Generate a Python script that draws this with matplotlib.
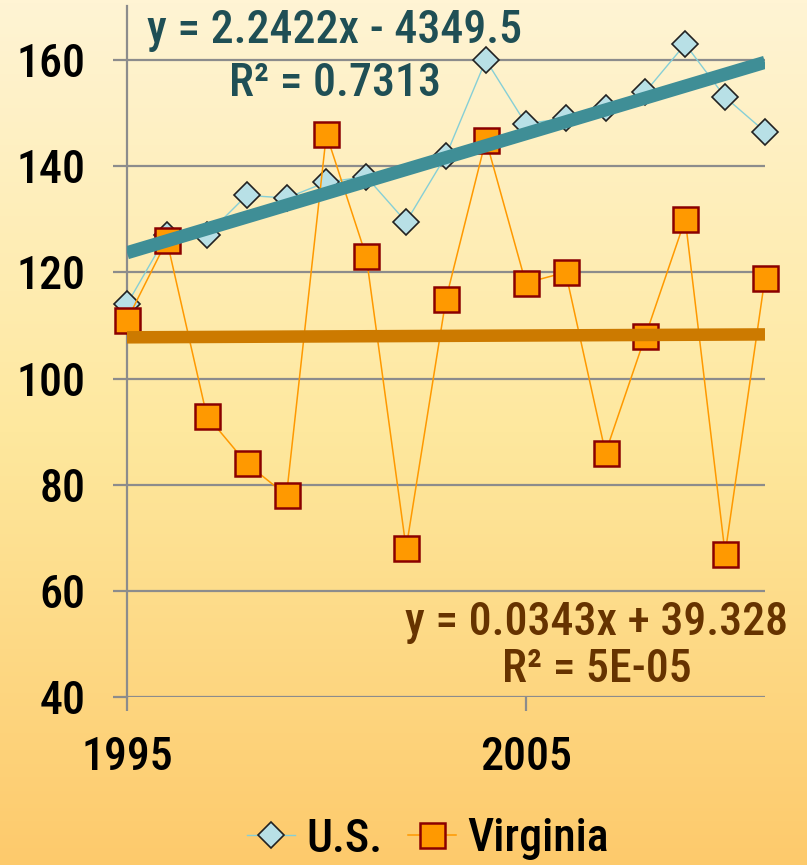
import numpy as np
import matplotlib
matplotlib.use('Agg')
import matplotlib.pyplot as plt
from matplotlib.colors import LinearSegmentedColormap

""" U.S. vs Virginia, 1995-2011, with linear trend lines """

years = [1995, 1996, 1997, 1998, 1999, 2000, 2001, 2002, 2003,
         2004, 2005, 2006, 2007, 2008, 2009, 2010, 2011]
us = [114, 127, 127, 134.5, 134, 137, 138, 129.5, 142,
      160, 148, 149, 151, 154, 163, 153, 146.5]
virginia = [111, 126, 93, 84, 78, 146, 123, 68, 115,
            145, 118, 120, 86, 108, 130, 67, 119]
y_ticks = [40, 60, 80, 100, 120, 140, 160]
x_ticks = [1995, 2005]
us_fit = (2.2422, -4349.5)
va_fit = (0.0343, 39.328)
us_eq = ['y = 2.2422x - 4349.5', 'R² = 0.7313']
va_eq = ['y = 0.0343x + 39.328', 'R² = 5E-05']

FONT = ['Roboto Condensed', 'Liberation Sans Narrow', 'DejaVu Sans']
plt.rcParams['font.family'] = FONT
plt.rcParams['font.weight'] = 'medium'

W, H = 807, 865
fig = plt.figure(figsize=(W / 100, H / 100), dpi=100)

# gradient background
bg = fig.add_axes([0, 0, 1, 1])
grad = np.linspace(0, 1, 256).reshape(-1, 1)
cmap = LinearSegmentedColormap.from_list('bg', ['#FFF4D4', '#FEE89E', '#FDCA6C'])
bg.imshow(grad, aspect='auto', cmap=cmap, extent=[0, 1, 0, 1], origin='upper')
bg.axis('off')

ax = fig.add_axes([127 / W, (H - 697) / H, 638 / W, 691 / H])
ax.patch.set_alpha(0)
ax.set_xlim(1995, 2011)
ax.set_ylim(40, 40 + 691 / (637 / 120))

for s in ['top', 'right', 'bottom']:
    ax.spines[s].set_visible(False)
ax.spines['left'].set_color('#8C8C8C')
ax.spines['left'].set_linewidth(1.6)

ax.set_yticks(y_ticks)
ax.set_xticks(x_ticks)
ax.tick_params(axis='both', colors='#8C8C8C', width=1.6, length=10,
               labelcolor='black', labelsize=33)
ax.tick_params(axis='y', pad=20)
ax.tick_params(axis='x', pad=18)
ax.yaxis.grid(True, color='#8C8C8C', linewidth=1.6)
ax.set_axisbelow(True)

ax.plot(years, us, color='#86CFD6', lw=1.0, marker='D', ms=13.5,
        mfc='#B8E0E6', mec='#222222', mew=1.2, clip_on=False, zorder=3, label='U.S.')
ax.plot(years, virginia, color='#FF9900', lw=1.1, marker='s', ms=18,
        mfc='#FF9900', mec='#8B0000', mew=1.8, clip_on=False, zorder=3, label='Virginia')

xs = np.array([years[0], years[-1]])
ax.plot(xs, us_fit[0] * xs + us_fit[1], color='#3F8E96', lw=9.5,
        solid_capstyle='butt', zorder=4)
ax.plot(xs, va_fit[0] * xs + va_fit[1], color='#CC7A00', lw=9,
        solid_capstyle='butt', zorder=4)

ax.text(335 / W, 1 - 30 / H, us_eq[0], transform=fig.transFigure, ha='center',
        va='center', fontsize=33, color='#1F4F55')
ax.text(335 / W, 1 - 83 / H, us_eq[1], transform=fig.transFigure, ha='center',
        va='center', fontsize=33, color='#1F4F55')
ax.text(597 / W, 1 - 622 / H, va_eq[0], transform=fig.transFigure, ha='center',
        va='center', fontsize=33, color='#663300')
ax.text(597 / W, 1 - 670 / H, va_eq[1], transform=fig.transFigure, ha='center',
        va='center', fontsize=33, color='#663300')

fig.legend(loc='center', bbox_to_anchor=(428 / W, 1 - 839 / H), ncol=2, frameon=False,
           fontsize=33, handlelength=1.05, handletextpad=0.25, columnspacing=0.55,
           borderpad=0)

fig.savefig('out.png', dpi=100)
